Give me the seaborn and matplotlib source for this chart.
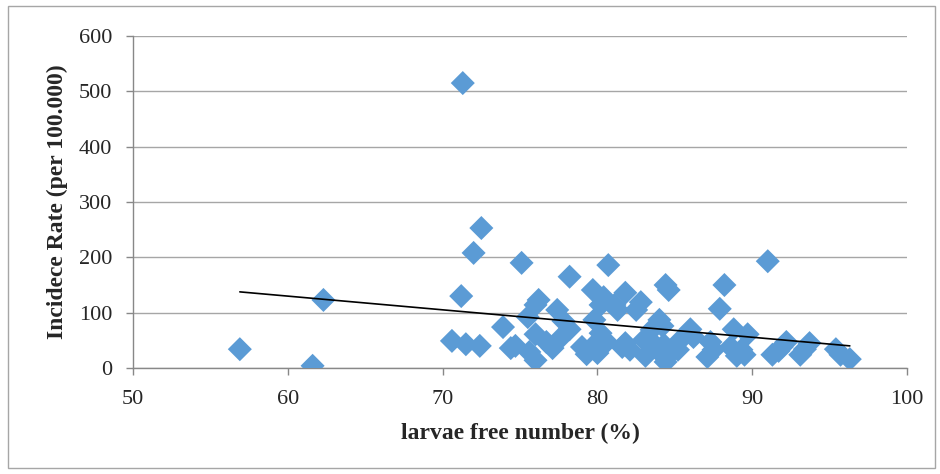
import numpy as np
import pandas as pd
import matplotlib
matplotlib.use("Agg")
import matplotlib.pyplot as plt
import seaborn as sns
from matplotlib.patches import Rectangle

# Data
larvae_free = [56.9, 61.6, 62.3, 71.3, 71.2, 72.5, 72.0, 70.6, 71.5, 72.4,
               73.9, 74.4, 74.7, 75.1, 75.5, 75.6, 76.0, 76.0, 76.2, 76.0,
               76.7, 77.1, 77.5, 77.4, 77.8, 78.2, 78.2, 79.0, 79.3, 79.7,
               79.8, 79.9, 80.0, 80.2, 80.2, 80.4, 80.7, 80.6, 81.1, 81.3,
               81.6, 81.8, 82.1, 81.8, 82.5, 82.8, 83.0, 83.1, 83.5, 83.7,
               84.0, 84.0, 84.3, 84.2, 84.4, 84.6, 84.4, 84.8, 85.3, 85.2,
               86.0, 86.2, 87.1, 87.3, 87.5, 87.9, 88.2, 88.6, 88.8, 89.0,
               89.3, 89.5, 89.7, 91.0, 91.3, 91.7, 91.9, 92.2, 93.1, 93.4,
               93.7, 95.4, 95.7, 96.3]
incidence = [34, 4, 123, 515, 130, 253, 208, 49, 43, 40,
             74, 36, 40, 190, 92, 29, 14, 61, 123, 114,
             47, 36, 51, 105, 85, 165, 70, 38, 25, 141,
             87, 45, 27, 63, 114, 128, 186, 47, 114, 105,
             38, 136, 33, 45, 105, 119, 51, 22, 69, 42,
             87, 29, 42, 76, 150, 141, 11, 29, 49, 33,
             70, 56, 20, 47, 33, 107, 150, 38, 70, 22,
             33, 24, 61, 193, 24, 31, 38, 47, 24, 34,
             45, 34, 24, 16]

x_ticks = [50, 60, 70, 80, 90, 100]
y_ticks = [0, 100, 200, 300, 400, 500, 600]

df = pd.DataFrame({"x": larvae_free, "y": incidence})

sns.set_style("white")
plt.rcParams['font.family'] = ['Liberation Serif', 'DejaVu Serif']

fig = plt.figure(figsize=(9.4, 4.74), dpi=100)
ax = fig.add_axes([0.1415, 0.2236, 0.8235, 0.7004])

# outer chart border
fig.patches.append(Rectangle((8 / 940, 6 / 474), 927 / 940, 462 / 474,
                             transform=fig.transFigure, fill=False,
                             edgecolor="#a6a6a6", linewidth=1.0))

sns.scatterplot(data=df, x="x", y="y", marker="D", s=150, color="#5b9bd5",
                edgecolor="none", ax=ax, zorder=3)
sns.regplot(data=df, x="x", y="y", scatter=False, ci=None, truncate=True,
            line_kws={"color": "black", "linewidth": 1.2, "zorder": 4}, ax=ax)

ax.set_xlim(50, 100)
ax.set_ylim(0, 600)
ax.set_xticks(x_ticks)
ax.set_yticks(y_ticks)
ax.yaxis.grid(True, color="#a6a6a6", linewidth=1.0)
ax.set_axisbelow(True)
for side in ["top", "right"]:
    ax.spines[side].set_visible(False)
for side in ["left", "bottom"]:
    ax.spines[side].set_color("#888888")
    ax.spines[side].set_linewidth(1.0)
ax.tick_params(axis="both", direction="out", length=5, color="#888888",
               labelsize=16, width=1.0, bottom=True, left=True)
ax.tick_params(axis="x", pad=11)
ax.tick_params(axis="y", pad=10)
ax.set_xlabel("larvae free number (%)", fontsize=17, fontweight="bold", va="center")
ax.set_ylabel("Incidece Rate (per 100.000)", fontsize=17, fontweight="bold", va="center")
ax.xaxis.set_label_coords(0.5, -0.196)
ax.yaxis.set_label_coords(-0.098, 0.5)

fig.savefig("out.png", dpi=100)
